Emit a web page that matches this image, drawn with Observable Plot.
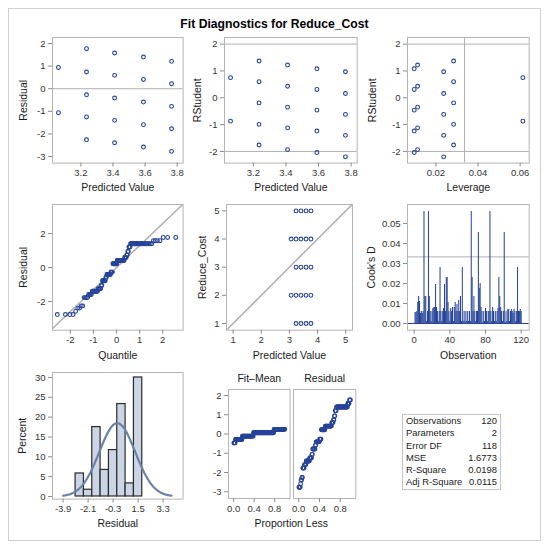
<!DOCTYPE html>
<html><head><meta charset="utf-8">
<script src="https://cdn.jsdelivr.net/npm/d3@7"></script>
<script src="https://cdn.jsdelivr.net/npm/@observablehq/plot@0.6"></script>
<style>
body{margin:0;background:#fff;}
#root{position:relative;width:550px;height:550px;font-family:"Liberation Sans",Arial,sans-serif;overflow:hidden;}
#border{position:absolute;left:8px;top:8px;width:533px;height:533px;border:1px solid #d0d0d0;box-sizing:border-box;}
#title{position:absolute;left:0;width:549px;top:16px;text-align:center;font-weight:bold;font-size:12.2px;line-height:16px;color:#000;}
#root svg{position:absolute;}
#stats{position:absolute;left:402px;top:414px;border:1px solid #c4c4c4;border-collapse:collapse;font-size:9.4px;color:#222;width:93px;}
#stats td{padding:0 3px;line-height:12.3px;height:12.3px;white-space:nowrap;}
#stats td.v{text-align:right;}
</style></head><body>
<div id="root"><div id="border"></div><div id="title">Fit Diagnostics for Reduce_Cost</div></div>
<script>
// ---------------- data ----------------
const predLevels = [3.06, 3.235, 3.41, 3.59, 3.765];
const leverageLevels = [0.0613, 0.0284, 0.0113, 0.0097, 0.0237];
const cellLevel    = [0,0, 1,1,1,1,1, 2,2,2,2,2, 3,3,3,3,3, 4,4,4,4,4];
const cellResponse = [2,4, 1,2,3,4,5, 1,2,3,4,5, 1,2,3,4,5, 1,2,3,4,5];
const cellCount    = [2,2, 2,5,4,2,3, 2,8,8,4,4, 1,4,2,15,26, 4,4,6,9,3];
const cellResidual = [-1.06,0.94, -2.26,-1.25,-0.27,0.74,1.77, -2.39,-1.40,-0.41,0.59,1.58, -2.58,-1.59,-0.59,0.41,1.40, -2.77,-1.77,-0.78,0.22,1.21];
const cellRStudent = [-0.87,0.75, -1.76,-0.99,-0.19,0.60,1.37, -1.93,-1.12,-0.35,0.43,1.22, -2.04,-1.24,-0.46,0.31,1.08, -2.20,-1.40,-0.62,0.16,0.97];

const cooksD = [
0.0055,0.0055,0.006,0.0105,0.0135,0.011,0.005,0.006,0.005,0.006,
0.056,0.0135,0.0135,0.001,0.006,0.056,0.0135,0.006,0.001,0.006,
0.0075,0.008,0.008,0.0195,0.008,0.006,0.001,0.006,0.028,0.006,
0.001,0.006,0.0075,0.0195,0.006,0.023,0.023,0.0105,0.006,0.001,
0.0075,0.006,0.008,0.001,0.008,0.0105,0.006,0.0095,0.006,0.0115,
0.006,0.0135,0.001,0.028,0.001,0.006,0.001,0.006,0.001,0.006,
0.001,0.006,0.001,0.056,0.023,0.006,0.0135,0.006,0.001,0.006,
0.006,0.0455,0.0175,0.02,0.008,0.006,0.0005,0.006,0.001,0.0075,
0.006,0.001,0.006,0.006,0.056,0.006,0.001,0.008,0.006,0.001,
0.006,0.001,0.006,0.0075,0.023,0.0135,0.008,0.006,0.001,0.006,
0.0455,0.0005,0.006,0.001,0.007,0.007,0.001,0.006,0.007,0.006,
0.005,0.007,0.006,0.001,0.006,0.028,0.006,0.006,0.007,0.006];
const cooksCutoff = 0.0333;
const leverageCutoff = 0.0336;

const binMid = [-2.7,-2.1,-1.5,-0.9,-0.3,0.3,0.9,1.5];
const binPercent = [5.8,1.7,17.5,6.7,11.7,23.3,3.3,30.0];
const binWidth = 0.6;

const statLabels = ["Observations","Parameters","Error DF","MSE","R-Square","Adj R-Square"];
const statValues = ["120","2","118","1.6773","0.0198","0.0115"];
const mse = 1.6773;

const ticksPred = [3.2,3.4,3.6,3.8];
const ticksResid = [-3,-2,-1,0,1,2];
const ticksRStud = [-2,-1,0,1,2];
const ticksLev = [0.02,0.04,0.06];
const ticksQuant = [-2,-1,0,1,2];
const ticksQQResid = [-2,0,2];
const ticksResp = [1,2,3,4,5];
const ticksObs = [0,40,80,120];
const ticksCook = [0,0.01,0.02,0.03,0.04,0.05];
const ticksHist = [-3.9,-2.1,-0.3,1.5,3.3];
const ticksPct = [0,5,10,15,20,25,30];
const ticksProp = [0,0.4,0.8];

// ---------------- derived tables ----------------
const cells = cellLevel.map((l,i)=>({pred: predLevels[l], lev: leverageLevels[l], resp: cellResponse[i], resid: cellResidual[i], rstud: cellRStudent[i]}));
const obs = [];
cells.forEach((c,i)=>{for(let k=0;k<cellCount[i];k++) obs.push(c);});
const N = obs.length;
function qnorm(p){
 const a=[-3.969683028665376e+01,2.209460984245205e+02,-2.759285104469687e+02,1.383577518672690e+02,-3.066479806614716e+01,2.506628277459239e+00];
 const b=[-5.447609879822406e+01,1.615858368580409e+02,-1.556989798598866e+02,6.680131188771972e+01,-1.328068155288572e+01];
 const c=[-7.784894002430293e-03,-3.223964580411365e-01,-2.400758277161838e+00,-2.549732539343734e+00,4.374664141464968e+00,2.938163982698783e+00];
 const d=[7.784695709041462e-03,3.224671290700398e-01,2.445134137142996e+00,3.754408661907416e+00];
 const pl=0.02425;
 if(p<pl){const q=Math.sqrt(-2*Math.log(p));return (((((c[0]*q+c[1])*q+c[2])*q+c[3])*q+c[4])*q+c[5])/((((d[0]*q+d[1])*q+d[2])*q+d[3])*q+1);}
 if(p>1-pl){const q=Math.sqrt(-2*Math.log(1-p));return -(((((c[0]*q+c[1])*q+c[2])*q+c[3])*q+c[4])*q+c[5])/((((d[0]*q+d[1])*q+d[2])*q+d[3])*q+1);}
 const q=p-0.5,r=q*q;return (((((a[0]*r+a[1])*r+a[2])*r+a[3])*r+a[4])*r+a[5])*q/(((((b[0]*r+b[1])*r+b[2])*r+b[3])*r+b[4])*r+1);
}
const sortedResid = obs.map(o=>o.resid).sort((a,b)=>a-b);
const qq = sortedResid.map((r,i)=>({q: qnorm((i+1-0.375)/(N+0.25)), r}));
const meanPred = d3.mean(obs, o=>o.pred);
const fitMean = obs.map(o=>o.pred-meanPred).sort((a,b)=>a-b).map((v,i)=>({p:(i+0.5)/N, v}));
const residSpread = sortedResid.map((v,i)=>({p:(i+0.5)/N, v}));
const sigma = Math.sqrt(mse);
const cook = cooksD.map((v,i)=>({o:i+1, v}));
const bars = binMid.map((m,i)=>({x1:m-binWidth/2, x2:m+binWidth/2, y:binPercent[i]}));
const curve = d3.range(-3.9, 3.9001, 0.05).map(x=>({x, y: 100*binWidth*Math.exp(-x*x/(2*sigma*sigma))/(sigma*Math.sqrt(2*Math.PI))}));

// ---------------- styling ----------------
const root = document.getElementById("root");
const FRAME = "#b4b4b4", TICK = "#8c8c8c", TXT = "#333", LAB = "#1a1a1a", REF = "#b0b0b0", MK = "#26449a";
const f1 = v=>v.toFixed(1), f2 = v=>v.toFixed(2), f0 = v=>String(v);
const dotOpts = {r:1.9, stroke: MK, strokeWidth: 1.1, fill: "none"};

function panel({frame, xDomain, yDomain, xTicks, yTicks, xFmt=f0, yFmt=f0, xLabel, xLabelDx=0, yLabel, yLabelX, yAxis=true, header, marks}){
  const [x0,y0,x1,y1] = frame;
  const ml=50, mt=22, mr=12, mb=40;
  const svg = Plot.plot({
    width: (x1-x0)+ml+mr, height: (y1-y0)+mt+mb,
    marginLeft: ml, marginTop: mt, marginRight: mr, marginBottom: mb,
    style: {background:"none", overflow:"visible", fontFamily:"'Liberation Sans', Arial, sans-serif", fontSize:"9.5px", color: TXT},
    x: {domain: xDomain, label: null},
    y: {domain: yDomain, label: null, axis: yAxis ? undefined : null},
    marks: [
      ...marks,
      Plot.frame({stroke: FRAME}),
      Plot.axisX({ticks: xTicks, tickFormat: xFmt, tickSize: 4, tickPadding: 2.5, stroke: TICK, fill: TXT, label: null}),
      yAxis ? Plot.axisY({ticks: yTicks, tickFormat: yFmt, tickSize: 4, tickPadding: 3, stroke: TICK, fill: TXT, label: null}) : null,
      xLabel ? Plot.text([xLabel], {text: d=>d, frameAnchor: "bottom", dy: 25, dx: xLabelDx, fontSize: 10.5, fill: LAB, lineAnchor: "middle"}) : null,
      yLabel ? Plot.text([yLabel], {text: d=>d, frameAnchor: "left", dx: -(x0-yLabelX), rotate: -90, fontSize: 10.5, fill: LAB, lineAnchor: "middle", textAnchor: "middle"}) : null,
      header ? Plot.text([header], {text: d=>d, frameAnchor: "top", dy: -11, fontSize: 10.5, fill: LAB, lineAnchor: "middle"}) : null
    ]
  });
  svg.style.left = (x0-ml)+"px"; svg.style.top = (y0-mt)+"px";
  root.appendChild(svg);
}

// Row 1
panel({frame:[51.7,36.7,182.3,162.3], xDomain:[3.023,3.837], yDomain:[-3.29,2.265], xTicks:ticksPred, yTicks:ticksResid, xFmt:f1,
  xLabel:"Predicted Value", yLabel:"Residual", yLabelX:22.7,
  marks:[Plot.ruleY([0],{stroke:REF}), Plot.dot(cells,{x:"pred", y:"resid", ...dotOpts})]});
panel({frame:[224,36.7,356.7,162.3], xDomain:[3.023,3.837], yDomain:[-2.433,2.246], xTicks:ticksPred, yTicks:ticksRStud, xFmt:f1,
  xLabel:"Predicted Value", yLabel:"RStudent", yLabelX:197.5,
  marks:[Plot.ruleY([-2,2],{stroke:REF}), Plot.dot(cells,{x:"pred", y:"rstud", ...dotOpts})]});
panel({frame:[407.3,36.7,529,162.3], xDomain:[0.0065,0.0643], yDomain:[-2.433,2.246], xTicks:ticksLev, yTicks:ticksRStud, xFmt:f2,
  xLabel:"Leverage", yLabel:"RStudent", yLabelX:372.3,
  marks:[Plot.ruleY([-2,2],{stroke:REF}), Plot.ruleX([leverageCutoff],{stroke:REF}), Plot.dot(cells,{x:"lev", y:"rstud", ...dotOpts})]});

// Row 2
panel({frame:[51.7,204.3,182.3,330], xDomain:[-2.77,2.88], yDomain:[-3.69,3.71], xTicks:ticksQuant, yTicks:ticksQQResid,
  xLabel:"Quantile", yLabel:"Residual", yLabelX:22.7,
  marks:[Plot.line([-2.77,2.88].map(q=>({q, r:sigma*q})),{x:"q", y:"r", stroke:REF, clip:true}),
         Plot.dot(qq,{x:"q", y:"r", ...dotOpts})]});
panel({frame:[225.7,204.3,351.7,330], xDomain:[0.766,5.24], yDomain:[0.762,5.227], xTicks:ticksResp, yTicks:ticksResp,
  xLabel:"Predicted Value", yLabel:"Reduce_Cost", yLabelX:202.3,
  marks:[Plot.line([0.5,5.5].map(v=>({a:v,b:v})),{x:"a", y:"b", stroke:REF, clip:true}),
         Plot.dot(cells,{x:"pred", y:"resp", ...dotOpts})]});
panel({frame:[407.3,204.3,529,330], xDomain:[-7.5,129], yDomain:[-0.00335,0.0595], xTicks:ticksObs, yTicks:ticksCook, yFmt:f2,
  xLabel:"Observation", yLabel:"Cook's D", yLabelX:371.5,
  marks:[Plot.ruleY([cooksCutoff],{stroke:REF}),
         Plot.ruleX(cook,{x:"o", y1:0, y2:"v", stroke:"#1f3e96", strokeWidth:1}),
         Plot.ruleY([0],{stroke:"#1f3e96"})]});

// Row 3
panel({frame:[51.7,371.7,182.3,498.3], xDomain:[-4.663,4.74], yDomain:[-0.66,31.26], xTicks:ticksHist, yTicks:ticksPct, xFmt:f1,
  xLabel:"Residual", yLabel:"Percent", yLabelX:21.7,
  marks:[Plot.rectY(bars,{x1:"x1", x2:"x2", y1:0, y2:"y", fill:"#cbd5e6", stroke:"#2a2a2a", strokeWidth:1.2}),
         Plot.line(curve,{x:"x", y:"y", stroke:"#6b82a8", strokeWidth:2.2})]});
panel({frame:[227.7,389,289.3,498], xDomain:[-0.1,1.1], yDomain:[-3.35,2.31], xTicks:ticksProp, yTicks:ticksResid, xFmt:f1,
  xLabel:"Proportion Less", xLabelDx:32, header:"Fit\u2013Mean",
  marks:[Plot.dot(fitMean,{x:"p", y:"v", ...dotOpts})]});
panel({frame:[292.7,389,355,498], xDomain:[-0.1,1.1], yDomain:[-3.35,2.31], xTicks:ticksProp, xFmt:f1, yAxis:false, header:"Residual",
  marks:[Plot.dot(residSpread,{x:"p", y:"v", ...dotOpts})]});

// statistics table
const tbl = document.createElement("table"); tbl.id = "stats";
statLabels.forEach((l,i)=>{const tr=document.createElement("tr"); const a=document.createElement("td"); a.textContent=l; const b=document.createElement("td"); b.className="v"; b.textContent=statValues[i]; tr.append(a,b); tbl.append(tr);});
root.appendChild(tbl);
</script>
</body></html>
